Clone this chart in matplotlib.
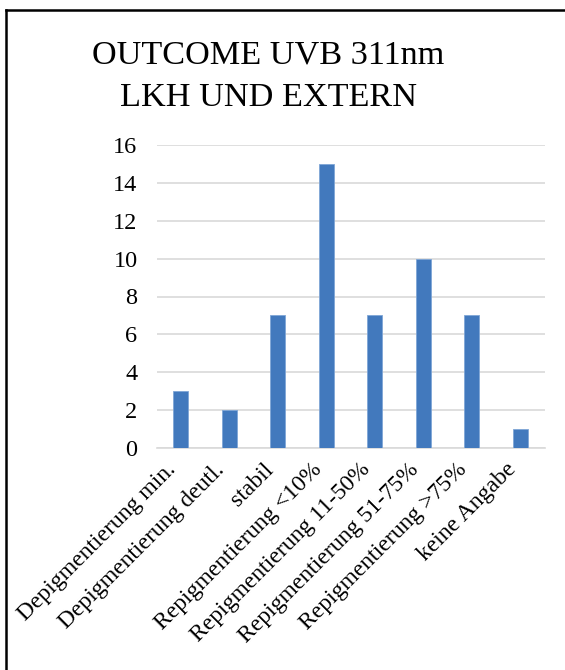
import matplotlib.pyplot as plt
from matplotlib.lines import Line2D

# Daten
kategorien = ['Depigmentierung min.', 'Depigmentierung deutl.', 'stabil',
              'Repigmentierung <10%', 'Repigmentierung 11-50%',
              'Repigmentierung 51-75%', 'Repigmentierung >75%', 'keine Angabe']
werte = [3, 2, 7, 15, 7, 10, 7, 1]
y_ticks = [0, 2, 4, 6, 8, 10, 12, 14, 16]

plt.rcParams['font.family'] = ['Liberation Serif', 'DejaVu Serif']

W, H = 565, 670
fig = plt.figure(figsize=(W / 100, H / 100), dpi=100)

ax = fig.add_axes([157 / W, 1 - 448 / H, (545 - 157) / W, (448 - 145) / H])
pos = range(len(kategorien))
ax.bar(pos, werte, width=0.31, color='#4279BD', edgecolor='#7FA6D6',
       linewidth=0.6, zorder=3)

ax.set_ylim(0, 16)
ax.set_xlim(-0.485, 7.515)
ax.set_yticks(y_ticks)
ax.set_yticklabels([str(v) for v in y_ticks], fontsize=17.5)
ax.yaxis.grid(True, color='#D9D9D9', linewidth=1.2, zorder=0)
ax.set_axisbelow(True)
for s in ['top', 'right', 'left']:
    ax.spines[s].set_visible(False)
ax.spines['bottom'].set_color('#D9D9D9')
ax.spines['bottom'].set_linewidth(1.2)
ax.tick_params(axis='y', length=0, pad=14)
ax.tick_params(axis='x', length=0, pad=8)
ax.set_xticks(list(pos))
ax.set_xticklabels(kategorien, rotation=45, ha='right', fontsize=17,
                   rotation_mode='default')

# Titel
fig.text(268 / W, 1 - 64 / H, 'OUTCOME UVB 311nm', ha='center',
         va='baseline', fontsize=24.7)
fig.text(268 / W, 1 - 106 / H, 'LKH UND EXTERN', ha='center',
         va='baseline', fontsize=24.7)

# Rahmen (links und oben)
fig.add_artist(Line2D([6 / W, 6 / W], [0, 1 - 10 / H], color='black',
                      linewidth=1.8, transform=fig.transFigure))
fig.add_artist(Line2D([6 / W, 1], [1 - 10 / H, 1 - 10 / H], color='black',
                      linewidth=1.8, transform=fig.transFigure))

fig.savefig('out.png', dpi=100)
